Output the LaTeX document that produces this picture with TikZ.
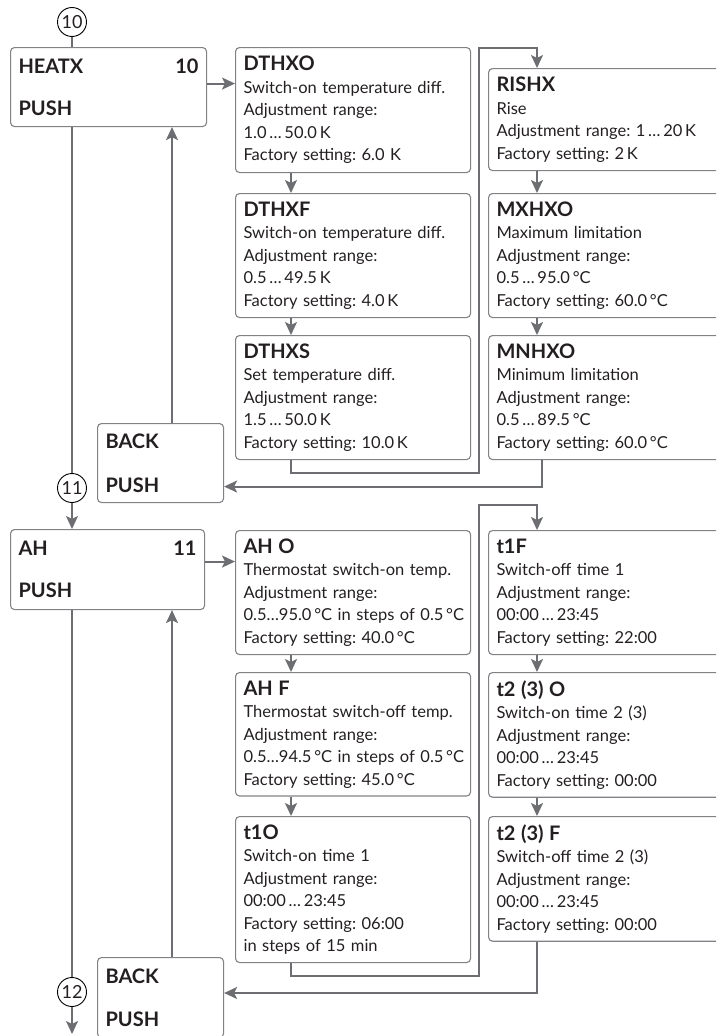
\documentclass[tikz,border=0pt]{standalone}
\usepackage{fontspec}
\setmainfont{Lato}
\usepackage{tikz}
\usetikzlibrary{arrows.meta, positioning, calc}
\definecolor{cLine}{RGB}{109,110,113}
\definecolor{cBox}{RGB}{128,130,133}
\definecolor{cText}{RGB}{35,31,32}
\newcommand{\ttl}[1]{{\fontsize{20}{22.5}\selectfont\bfseries #1}}
\frenchspacing

\begin{document}
\begin{tikzpicture}[x=1pt, y=-1pt, font=\fontsize{16.5}{22.5}\selectfont, text=cText,
  box/.style={draw=cBox, line width=1.1pt, rounded corners=4pt, anchor=north west, inner sep=8pt, text width=219pt, align=left},
  menu/.style={box, font=\fontsize{20}{22.5}\selectfont\bfseries},
  num/.style={circle, draw=black, line width=0.9pt, minimum size=29pt, inner sep=0pt, font=\fontsize{18}{20}\selectfont},
  link/.style={draw=cLine, line width=2pt},
  arr/.style={link, -{Stealth[length=13pt, width=12pt, inset=3pt]}}]
\useasboundingbox (0,0) rectangle (716,1036); \clip (0,0) rectangle (716,1036);
\coordinate (cx1) at (72,0); \coordinate (cx2) at (172,0); \coordinate (cx3) at (291,0);
\coordinate (cx4) at (479,0); \coordinate (cx5) at (537,0); \coordinate (cx6) at (542,0);
\coordinate (end) at (72,1034);

\node[num] (c10) at (72,22) {10};
\node[menu, text width=180pt, minimum height=79pt] (heatx) at (10,47) {\makebox[\linewidth][l]{HEATX\hfill 10}\\[20pt]PUSH};
\node[box, minimum height=125pt] (dthxo) at (235,47) {\ttl{DTHXO}\\Switch-on temperature diff.\\Adjustment range:\\1.0\,…\,50.0\,K\\Factory setting: 6.0 K};
\node[box, minimum height=124pt] (dthxf) at (235,193) {\ttl{DTHXF}\\Switch-on temperature diff.\\Adjustment range:\\0.5\,…\,49.5\,K\\Factory setting: 4.0\,K};
\node[box, minimum height=124pt] (dthxs) at (235,335) {\ttl{DTHXS}\\Set temperature diff.\\Adjustment range:\\1.5\,…\,50.0\,K\\Factory setting: 10.0\,K};
\node[box, minimum height=102pt] (rishx) at (488,68) {\ttl{RISHX}\\Rise\\Adjustment range: 1\,…\,20\,K\\Factory setting: 2\,K};
\node[box, minimum height=124pt] (mxhxo) at (488,193) {\ttl{MXHXO}\\Maximum limitation\\Adjustment range:\\0.5\,…\,95.0\,°C\\Factory setting: 60.0\,°C};
\node[box, minimum height=124pt] (mnhxo) at (488,335) {\ttl{MNHXO}\\Minimum limitation\\Adjustment range:\\0.5\,…\,89.5\,°C\\Factory setting: 60.0\,°C};
\node[menu, text width=110pt, minimum height=79pt] (back1) at (97,423) {BACK\\[22pt]PUSH};
\node[num] (c11) at (72,488) {11};

\node[menu, text width=178pt, minimum height=80pt] (ah) at (10,529) {\makebox[\linewidth][l]{AH\hfill 11}\\[20pt]PUSH};
\node[box, minimum height=124pt] (aho) at (235,530) {\ttl{AH O}\\Thermostat switch-on temp.\\Adjustment range:\\\mbox{0.5…95.0\,°C in steps of 0.5\,°C}\\Factory setting: 40.0\,°C};
\node[box, minimum height=123pt] (ahf) at (235,672) {\ttl{AH F}\\Thermostat switch-off temp.\\Adjustment range:\\\mbox{0.5…94.5\,°C in steps of 0.5\,°C}\\Factory setting: 45.0\,°C};
\node[box, minimum height=146pt] (t1o) at (235,816) {\ttl{t1O}\\Switch-on time 1\\Adjustment range:\\00:00\,…\,23:45\\Factory setting: 06:00\\in steps of 15 min};
\node[box, minimum height=124pt] (t1f) at (488,530) {\ttl{t1F}\\Switch-off time 1\\Adjustment range:\\00:00\,…\,23:45\\Factory setting: 22:00};
\node[box, minimum height=123pt] (t2o) at (488,672) {\ttl{t2 (3) O}\\Switch-on time 2 (3)\\Adjustment range:\\00:00\,…\,23:45\\Factory setting: 00:00};
\node[box, minimum height=124pt] (t2f) at (488,816) {\ttl{t2 (3) F}\\Switch-off time 2 (3)\\Adjustment range:\\00:00\,…\,23:45\\Factory setting: 00:00};
\node[menu, text width=110pt, minimum height=80pt] (back2) at (97,957) {BACK\\[20pt]PUSH};
\node[num] (c12) at (72,992) {12};

\draw[link] (c10) -- (c10 |- heatx.north);
\draw[arr] ([yshift=3.5pt]heatx.east) -- ([yshift=3.5pt]heatx.east -| dthxo.west);
\draw[link] (heatx.south -| cx1) -- (c11); \draw[arr] (c11) -- (c11 |- ah.north);
\draw[arr] (back1.north -| cx2) -- (heatx.south -| cx2);
\draw[arr] (dthxo.south -| cx3) -- (dthxf.north -| cx3); \draw[arr] (dthxf.south -| cx3) -- (dthxs.north -| cx3);
\draw[arr] (dthxs.south -| cx3) -- ++(0,13) -| ([yshift=20pt]rishx.north -| cx4) -| (rishx.north -| cx5);
\draw[arr] (rishx.south -| cx5) -- (mxhxo.north -| cx5); \draw[arr] (mxhxo.south -| cx5) -- (mnhxo.north -| cx5);
\draw[arr] (mnhxo.south -| cx6) |- ([yshift=-23.5pt]back1.east);

\draw[arr] ([yshift=8pt]ah.east) -- ([yshift=8pt]ah.east -| aho.west);
\draw[link] (ah.south -| cx1) -- (c12); \draw[arr] (c12) -- (end);
\draw[arr] (back2.north -| cx2) -- (ah.south -| cx2);
\draw[arr] (aho.south -| cx3) -- (ahf.north -| cx3); \draw[arr] (ahf.south -| cx3) -- (t1o.north -| cx3);
\draw[arr] (t1o.south -| cx3) -- ++(0,13) -| ([yshift=25pt]t1f.north -| cx4) -| (t1f.north -| cx5);
\draw[arr] (t1f.south -| cx5) -- (t2o.north -| cx5); \draw[arr] (t2o.south -| cx5) -- (t2f.north -| cx5);
\draw[arr] (t2f.south -| cx5) |- ([yshift=-36pt]back2.north east);
\end{tikzpicture}
\end{document}
